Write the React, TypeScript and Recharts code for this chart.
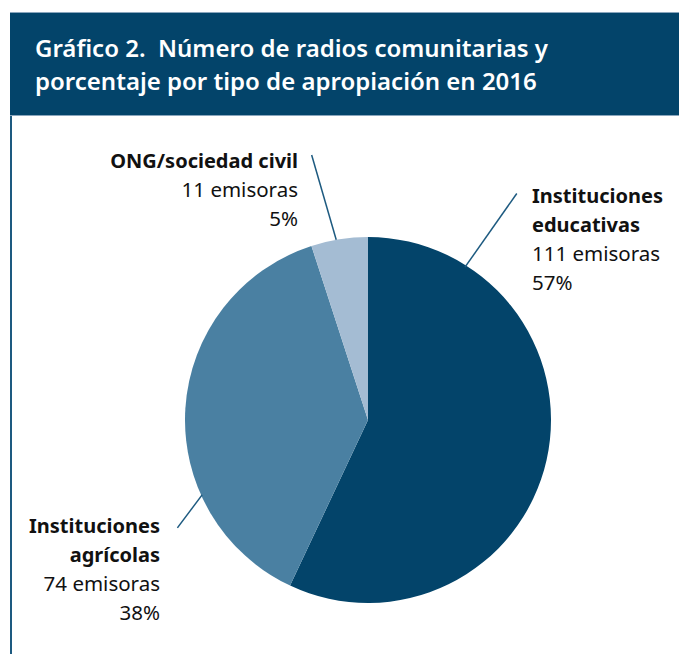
import { Cell, Pie, PieChart } from "recharts"

const categories = ["Instituciones educativas", "Instituciones agrícolas", "ONG/sociedad civil"]
const nameLines = [["Instituciones", "educativas"], ["Instituciones", "agrícolas"], ["ONG/sociedad civil"]]
const emisoras = [111, 74, 11]
const percentages = [57, 38, 5]
const sliceColors = ["#03446A", "#4A80A2", "#A4BCD3"]

const titleLines = ["Gráfico 2.  Número de radios comunitarias y", "porcentaje por tipo de apropiación en 2016"]

// leader lines as [angle clockwise from top, radius] pairs, text offsets from pie centre
const labelLayout = [
  { from: [32.4, 181], to: [33.3, 271], dx: 164, dy: -225, anchor: "start" },
  { from: [245.7, 182], to: [240.5, 219], dx: -208, dy: 105, anchor: "end" },
  { from: [350, 183], to: [348, 271], dx: -70, dy: -260, anchor: "end" },
]

// slices are drawn from the rounded percentages, like the original
const data = categories.map((name, i) => ({ name, value: percentages[i], emisoras: emisoras[i] }))

const FONT = "'Noto Sans', sans-serif"
const DARK = "#03446A"

function polar(cx: number, cy: number, deg: number, r: number) {
  const rad = (deg * Math.PI) / 180
  return { x: cx + r * Math.sin(rad), y: cy - r * Math.cos(rad) }
}

function renderLabel(props: any) {
  const { cx, cy, index } = props
  const lay = labelLayout[index]
  const a = polar(cx, cy, lay.from[0], lay.from[1])
  const b = polar(cx, cy, lay.to[0], lay.to[1])
  const x = cx + lay.dx
  const y0 = cy + lay.dy
  const lh = 29
  const lines = nameLines[index]
  return (
    <g key={`lbl-${index}`}>
      <line x1={a.x} y1={a.y} x2={b.x} y2={b.y} stroke="#1d5a80" strokeWidth={1.5} />
      <text
        x={x}
        y={y0}
        textAnchor={lay.anchor}
        dominantBaseline="central"
        fontFamily={FONT}
        fontSize={20}
        fill="#111"
      >
        {lines.map((ln, j) => (
          <tspan key={j} x={x} y={y0 + j * lh} fontWeight={700}>
            {ln}
          </tspan>
        ))}
        <tspan x={x} y={y0 + lines.length * lh} fontWeight={400} fontSize={20.5}>
          {emisoras[index]} emisoras
        </tspan>
        <tspan x={x} y={y0 + (lines.length + 1) * lh} fontWeight={400} fontSize={20.5}>
          {percentages[index]}%
        </tspan>
      </text>
    </g>
  )
}

export default function App() {
  return (
    <div style={{ position: "absolute", left: 0, top: 0, width: 679, height: 654, background: "#fff", overflow: "hidden" }}>
      <div
        style={{
          position: "absolute",
          left: 10,
          top: 12,
          width: 669,
          height: 104,
          background: DARK,
          borderTop: "1px solid #8aa6bd",
          borderBottom: "1px solid #8aa6bd",
          boxSizing: "border-box",
        }}
      />
      <div style={{ position: "absolute", left: 10, top: 116, width: 2, height: 538, background: "#1d5a80" }} />
      <div
        style={{
          position: "absolute",
          left: 35,
          top: 31,
          color: "#fff",
          fontFamily: FONT,
          fontWeight: 600,
          fontSize: 24,
          lineHeight: "33px",
          whiteSpace: "pre",
        }}
      >
        {titleLines.map((t, i) => (
          <div key={i}>{t}</div>
        ))}
      </div>
      <div style={{ position: "absolute", left: 0, top: 0 }}>
        <PieChart width={679} height={654} margin={{ top: 0, right: 0, bottom: 0, left: 0 }}>
          <Pie
            data={data}
            dataKey="value"
            nameKey="name"
            cx={368}
            cy={420}
            outerRadius={183}
            startAngle={90}
            endAngle={-270}
            stroke="none"
            label={renderLabel}
            labelLine={false}
            isAnimationActive={false}
          >
            {data.map((d, i) => (
              <Cell key={d.name} fill={sliceColors[i]} />
            ))}
          </Pie>
        </PieChart>
      </div>
    </div>
  )
}
